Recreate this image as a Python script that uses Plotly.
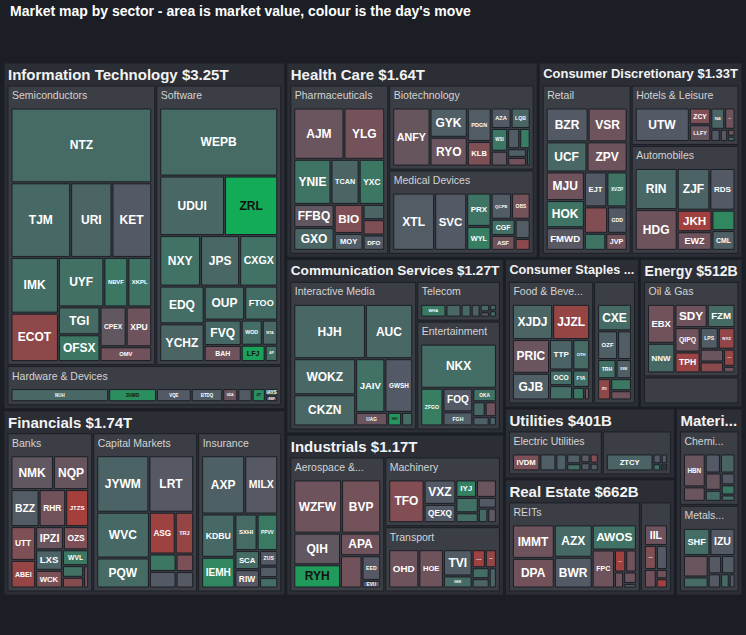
import plotly.graph_objects as go
from plotly.colors import sample_colorscale

# ---- data: market value in $B, day's move in % ----
sector_order = ["Information Technology", "Financials", "Health Care",
                "Consumer Discretionary", "Communication Services", "Industrials",
                "Consumer Staples", "Energy", "Utilities", "Real Estate", "Materials"]

semis_tickers = ["UYF", "NTZ", "OFSX", "OMV", "KET", "NBVF", "URI", "TJM", "ECOT", "CPEX", "TGI", "XPU", "IMK", "XKPL"]
semis_caps = [97, 454, 48, 33, 128, 51, 133, 192, 99, 45, 50, 44, 114, 51]
semis_moves = [1.0, 0.8, 1.3, -0.9, 0.0, 1.3, 0.5, 0.7, -1.8, -0.4, 0.8, -0.8, 0.9, 1.2]

software_tickers = ["EDQ", "YCHZ", "NTA", "NXY", "LFJ", "CXGX", "WOD", "UDUI", "OUP", "WEPB", "JPS", "ZRL", "FTOO", "AIP", "FVQ", "BAH"]
software_caps = [73, 73, 17, 90, 17, 84, 23, 168, 60, 350, 86, 138, 49, 9, 41, 26]
software_moves = [0.9, 0.5, 0.6, 1.1, 2.6, 1.1, 0.9, 0.6, 0.8, 0.8, 0.6, 2.9, 0.9, 1.0, 0.7, -0.8]

hardware_tickers = ["IAYS", "VQE", "RSP", "ZHWD", "JIT", "", "NUH", "BTDQ", "UDA"]
hardware_caps = [11, 53, 8, 73, 20, 22, 149, 48, 23]
hardware_moves = [1.2, 0.0, -0.2, 2.0, 2.0, 0.0, 0.6, 0.1, -0.7]

banks_tickers = ["RHR", "ABEI", "OZS", "NMK", "JTZS", "", "NQP", "", "WVL", "", "IPZI", "WCK", "UTT", "BZZ", "LXS"]
banks_caps = [52, 36, 31, 76, 45, 12, 63, 6, 22, 13, 34, 25, 44, 55, 29]
banks_moves = [-0.9, -2.0, -1.3, -0.4, -2.4, -1.5, -0.6, -0.8, 1.3, 1.1, -0.7, -1.2, -1.3, 0.1, 0.4]

insurance_tickers = ["MILX", "ZUS", "IEMH", "SCA", "KDBU", "RIW", "AXP", "SXHI", "", "", "PPVV"]
insurance_caps = [102, 15, 54, 25, 76, 24, 133, 43, 10, 11, 40]
insurance_moves = [-0.1, 0.0, 1.8, 0.8, 0.7, -0.1, 0.3, 0.8, 0.9, 0.1, 1.4]

capmkts_tickers = ["", "LRT", "ASG", "WVC", "JYWM", "", "", "", "PQW", "TRJ"]
capmkts_caps = [24, 131, 56, 125, 153, 23, 16, 15, 82, 40]
capmkts_moves = [1.3, -0.1, -2.2, 0.7, 0.4, 0.0, -1.2, -0.1, 0.8, -2.0]

pharma_tickers = ["YLG", "MOY", "YNIE", "", "TCAN", "FFBQ", "", "GXO", "AJM", "BIO", "YXC", "DFO"]
pharma_caps = [107, 25, 86, 17, 65, 48, 17, 47, 132, 43, 59, 17]
pharma_moves = [-1.0, 0.1, 1.2, 0.5, 0.5, -0.4, -1.3, 0.5, -0.7, -1.3, 1.3, 0.0]

biotech_tickers = ["PDGN", "", "WSI", "", "RYO", "LQB", "", "", "", "ANFY", "AZA", "", "GYK", "KLB"]
biotech_caps = [49, 10, 23, 4, 66, 24, 15, 15, 10, 133, 25, 13, 67, 36]
biotech_moves = [0.1, 0.3, 1.3, 1.4, -0.7, 0.5, -0.4, 0.1, -0.9, -0.6, 0.0, 1.5, 0.2, -1.3]

meddev_tickers = ["", "QCPE", "XTL", "OBS", "ASF", "CGF", "WYL", "", "SVC", "PRX"]
meddev_caps = [11, 33, 148, 30, 22, 24, 36, 18, 113, 50]
meddev_moves = [-1.7, 0.1, 0.1, -1.0, -0.8, 1.0, 1.5, 0.1, 0.0, 1.2]

retail_tickers = ["ZPV", "XVZP", "GDD", "", "FMWD", "", "VSR", "UCF", "EJT", "JVP", "MJU", "BZR", "HOK"]
retail_caps = [63, 37, 27, 32, 45, 19, 69, 64, 41, 19, 57, 74, 54]
retail_moves = [-0.8, 1.2, 0.0, -1.4, -0.2, 1.2, -0.8, 0.6, 0.0, -0.9, -0.8, 0.0, 1.2]

autos_tickers = ["RDS", "RIN", "CML", "JKH", "HDG", "", "ZJF", "EWZ"]
autos_caps = [60, 99, 26, 43, 98, 27, 78, 37]
autos_moves = [0.0, 0.6, 0.3, -2.3, -0.8, 1.8, 0.4, -0.8]

hotels_tickers = ["", "EVDS", "UTW", "WUY", "", "RAB", "", "ZCY", "LLFY"]
hotels_caps = [3, 9, 141, 17, 7, 23, 4, 28, 28]
hotels_moves = [1.2, 0.0, 0.0, -0.8, -0.2, 0.5, -1.0, -1.3, -0.6]

media_tickers = ["GWSH", "WOKZ", "AUC", "", "JAIV", "HJH", "UAG", "CKZN", "HXV"]
media_caps = [79, 118, 136, 8, 83, 206, 23, 102, 10]
media_moves = [0.0, 0.6, 0.6, 0.9, 1.1, 0.6, -0.7, 0.6, 2.2]

telecom_tickers = ["", "", "", "", "", "", "WHA", ""]
telecom_caps = [6, 16, 10, 18, 6, 7, 45, 27]
telecom_moves = [0.6, 0.2, 0.7, 0.7, 0.8, -0.1, 1.4, 0.6]

entertain_tickers = ["NKX", "FGH", "", "OKA", "", "FOQ", "", "", "ZFGO"]
entertain_caps = [199, 25, 9, 19, 10, 42, 11, 4, 50]
entertain_moves = [0.9, 0.1, 0.3, 1.1, -0.8, 0.0, 0.6, 0.5, 1.5]

aero_tickers = ["APA", "QIH", "WZFW", "EVU", "BVP", "EED", "", "RYH"]
aero_caps = [51, 83, 143, 8, 117, 26, 39, 61]
aero_moves = [-0.8, -0.4, -0.8, 0.0, -1.0, -0.1, -0.9, 2.4]

machinery_tickers = ["", "", "", "QEXQ", "VXZ", "TFO", "IYJ", "", "", ""]
machinery_caps = [9, 14, 10, 42, 56, 109, 26, 16, 25, 25]
machinery_moves = [-0.3, 0.0, 0.7, 0.0, 0.0, -1.4, 1.6, 1.0, -0.7, 1.0]

transport_tickers = ["KGS", "DZE", "OHD", "HOE", "GKK", "", "TVI", "", ""]
transport_caps = [18, 15, 87, 71, 26, 12, 57, 11, 14]
transport_moves = [-2.2, -1.9, -0.8, -0.8, 0.8, 0.5, 0.1, 0.4, 0.9]

food_tickers = ["", "FYA", "OCO", "XJDJ", "", "JJZL", "", "TTP", "OTH", "PRIC", "GJB"]
food_caps = [9, 18, 22, 86, 20, 79, 4, 43, 31, 76, 60]
food_moves = [1.3, 0.9, 0.9, 0.5, 0.9, -2.0, -0.9, 0.4, 0.8, -0.7, 0.2]

household_tickers = ["", "", "ZFU", "", "TRH", "OZF", "CXE", "XSW"]
household_caps = [13, 17, 19, 27, 24, 39, 61, 20]
household_moves = [-0.8, 1.3, -1.8, 0.1, 1.0, 0.2, 0.8, 0.2]

oilgas_tickers = ["SDY", "", "NYZ", "", "TPH", "NNW", "", "EBX", "QIPQ", "LPS", "FZM", "OCJ"]
oilgas_caps = [50, 5, 24, 17, 35, 54, 20, 71, 41, 26, 43, 13]
oilgas_moves = [-0.8, -0.8, -1.9, -1.6, -2.1, 0.7, -0.7, -0.9, -0.8, 0.1, 0.8, -2.0]

equipment_tickers = ["", "", "", "", "", "OSA", "", ""]
equipment_caps = [5, 20, 16, 4, 3, 59, 3, 3]
equipment_moves = [-0.8, -0.4, 0.7, -0.8, -2.2, 0.0, -0.6, -0.6]

electric_tickers = ["IVDM", "", "", "", "", "", "", "", ""]
electric_caps = [74, 16, 22, 43, 13, 12, 12, 10, 29]
electric_moves = [-1.2, 1.0, 0.2, 0.2, -0.3, 0.0, -1.4, 0.2, 0.3]

multiutil_tickers = ["", "", "", "ZTCY", "LIX", ""]
multiutil_caps = [4, 4, 10, 130, 13, 9]
multiutil_moves = [1.0, -1.0, 0.0, 0.4, 0.0, 1.2]

reits_tickers = ["AWOS", "AZX", "", "FPC", "BWR", "", "", "", "HYU", "DPA", "IMMT"]
reits_caps = [76, 84, 16, 58, 80, 10, 10, 4, 17, 85, 96]
reits_moves = [1.1, 0.7, -0.8, -0.8, 0.0, -0.8, -0.8, 0.0, -2.3, -0.9, -0.8]

reservices_tickers = ["HIW", "", "IIL", "", "", ""]
reservices_caps = [25, 9, 41, 19, 9, 23]
reservices_moves = [-1.3, -0.9, -0.8, -0.9, -2.2, 0.0]

chem_tickers = ["HBN", "", "", "", "", "", "", "", ""]
chem_caps = [57, 25, 23, 13, 7, 22, 11, 22, 14]
chem_moves = [-0.7, -0.7, 0.0, 0.0, 0.9, 0.4, 1.3, -0.6, 0.8]

metals_tickers = ["IZU", "", "", "", "", "SHF", "", "", ""]
metals_caps = [50, 6, 18, 13, 39, 53, 9, 20, 18]
metals_moves = [0.0, 0.0, -0.1, 0.0, -0.7, 0.9, 0.8, 0.8, 0.1]

industries = [
    ("Information Technology", "Semiconductors", semis_tickers, semis_caps, semis_moves),
    ("Information Technology", "Software", software_tickers, software_caps, software_moves),
    ("Information Technology", "Hardware & Devices", hardware_tickers, hardware_caps, hardware_moves),
    ("Financials", "Banks", banks_tickers, banks_caps, banks_moves),
    ("Financials", "Capital Markets", capmkts_tickers, capmkts_caps, capmkts_moves),
    ("Financials", "Insurance", insurance_tickers, insurance_caps, insurance_moves),
    ("Health Care", "Pharmaceuticals", pharma_tickers, pharma_caps, pharma_moves),
    ("Health Care", "Biotechnology", biotech_tickers, biotech_caps, biotech_moves),
    ("Health Care", "Medical Devices", meddev_tickers, meddev_caps, meddev_moves),
    ("Consumer Discretionary", "Retail", retail_tickers, retail_caps, retail_moves),
    ("Consumer Discretionary", "Hotels & Leisure", hotels_tickers, hotels_caps, hotels_moves),
    ("Consumer Discretionary", "Automobiles", autos_tickers, autos_caps, autos_moves),
    ("Communication Services", "Interactive Media", media_tickers, media_caps, media_moves),
    ("Communication Services", "Telecom", telecom_tickers, telecom_caps, telecom_moves),
    ("Communication Services", "Entertainment", entertain_tickers, entertain_caps, entertain_moves),
    ("Industrials", "Aerospace & Defense", aero_tickers, aero_caps, aero_moves),
    ("Industrials", "Machinery", machinery_tickers, machinery_caps, machinery_moves),
    ("Industrials", "Transport", transport_tickers, transport_caps, transport_moves),
    ("Consumer Staples", "Food & Beverage", food_tickers, food_caps, food_moves),
    ("Consumer Staples", "Household Products", household_tickers, household_caps, household_moves),
    ("Energy", "Oil & Gas", oilgas_tickers, oilgas_caps, oilgas_moves),
    ("Energy", "Energy Equipment", equipment_tickers, equipment_caps, equipment_moves),
    ("Utilities", "Electric Utilities", electric_tickers, electric_caps, electric_moves),
    ("Utilities", "Multi-Utilities", multiutil_tickers, multiutil_caps, multiutil_moves),
    ("Real Estate", "REITs", reits_tickers, reits_caps, reits_moves),
    ("Real Estate", "Real Estate Services", reservices_tickers, reservices_caps, reservices_moves),
    ("Materials", "Chemicals", chem_tickers, chem_caps, chem_moves),
    ("Materials", "Metals & Mining", metals_tickers, metals_caps, metals_moves),
]
# headers as the original shows them when the box is too narrow
short_names = {"Consumer Staples": "Consumer Staples ...", "Materials": "Materi...",
               "Food & Beverage": "Food & Beve...", "Aerospace & Defense": "Aerospace &...",
               "Chemicals": "Chemi...", "Metals & Mining": "Metals..."}
# groups too small in the original to show their header
unlabelled_groups = {"Household Products", "Energy Equipment", "Multi-Utilities", "Real Estate Services"}

move_scale = [[0.0, "#b8372f"], [0.3, "#7b5057"], [0.5, "#535a65"],
              [0.7, "#3f7465"], [1.0, "#12ae57"]]

FONT = "Liberation Sans, Arial, sans-serif"


def fmt_cap(b):
    return "$%.2fT" % (b / 1000) if b >= 1000 else "$%dB" % round(b)


ids, parents, values = [], [], []
head_labels, tick_texts, colors, sizes, fcolors, is_leaf = [], [], [], [], [], []

for sector in sector_order:
    inds = [ind for ind in industries if ind[0] == sector]
    total = sum(sum(ind[3]) for ind in inds)
    ids.append(sector)
    parents.append("")
    values.append(total)
    head_labels.append("<b>%s</b>" % short_names.get(sector, "%s %s" % (sector, fmt_cap(total))))
    tick_texts.append("")
    colors.append("#2b2e35")
    sizes.append(15)
    fcolors.append("#f2f2f2")
    is_leaf.append(False)
    for _, name, tickers, caps, moves in inds:
        iid = sector + "/" + name
        ids.append(iid)
        parents.append(sector)
        values.append(sum(caps))
        head_labels.append(" " if name in unlabelled_groups else short_names.get(name, name))
        tick_texts.append("")
        colors.append("#3b3e45")
        sizes.append(10.5)
        fcolors.append("#d4d4d4")
        is_leaf.append(False)
        order = sorted(range(len(caps)), key=lambda i: -caps[i])
        for i in order:
            ids.append("%s/%d" % (iid, i))
            parents.append(iid)
            values.append(caps[i])
            head_labels.append(tickers[i] or " ")
            tick_texts.append("<b>%s</b>" % tickers[i] if tickers[i] else "")
            colors.append(sample_colorscale(move_scale, [(moves[i] + 3) / 6])[0])
            sizes.append(12)
            fcolors.append("#111111" if moves[i] >= 1.95 else "#ffffff")
            is_leaf.append(True)

common = dict(
    ids=ids,
    parents=parents,
    values=values,
    branchvalues="total",
    sort=False,
    tiling=dict(pad=2, squarifyratio=1.13),
    pathbar=dict(visible=False),
    hoverinfo="skip",
)

# boxes, colours and left-aligned sector / industry headers
boxes = go.Treemap(
    labels=head_labels,
    text=tick_texts,
    texttemplate=["" if leaf else "%{label}" for leaf in is_leaf],
    textposition="top left",
    textfont=dict(family=FONT, size=sizes, color=fcolors),
    marker=dict(colors=colors, line=dict(color="#1c1f26", width=1),
                pad=dict(t=23, l=4, r=4, b=4)),
    **common,
)

# same layout again, transparent, carrying the centred ticker labels
tickers_layer = go.Treemap(
    labels=[lab if leaf else " " for lab, leaf in zip(head_labels, is_leaf)],
    text=tick_texts,
    texttemplate="%{text}",
    textposition="middle center",
    textfont=dict(family=FONT, size=sizes, color=fcolors),
    marker=dict(colors=["rgba(0,0,0,0)"] * len(ids), line=dict(width=0),
                pad=dict(t=23, l=4, r=4, b=4)),
    **common,
)

fig = go.Figure([boxes, tickers_layer])

fig.update_layout(
    width=746,
    height=635,
    paper_bgcolor="#1b1e25",
    plot_bgcolor="#1b1e25",
    margin=dict(t=40, l=0, r=0, b=36),
    title=dict(text="<b>Market map by sector - area is market value, colour is the day's move</b>",
               x=10 / 746, xanchor="left", xref="paper", y=0.99, yanchor="top",
               font=dict(family=FONT, size=14, color="#ffffff")),
)

fig.write_html("out.html", config={"displayModeBar": False},
               post_script="document.body.style.margin='0';")
